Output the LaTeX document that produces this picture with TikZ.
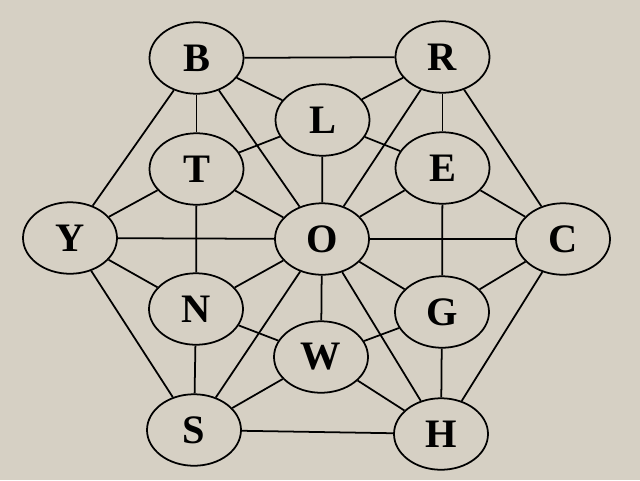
\documentclass[tikz,border=0pt]{standalone}
\usepackage{fontspec}
\setmainfont{Liberation Serif}
\usepackage{xcolor}
\usepackage{tikz}
\usetikzlibrary{shapes.geometric}
\definecolor{paper}{RGB}{214,208,196}

\begin{document}
\begin{tikzpicture}[
    letter/.style={ellipse, draw, line width=1pt, fill=paper,
      minimum width=1.88cm, minimum height=1.43cm,
      font=\fontsize{23}{27}\selectfont\bfseries},
    edge/.style={line width=1pt}
]
\fill[paper] (0,0) rectangle (12.8,9.6);
\useasboundingbox (0,0) rectangle (12.8,9.6);

\node[letter] (B) at (3.93,8.44)  {B};
\node[letter] (R) at (8.85,8.46)  {R};
\node[letter] (L) at (6.45,7.20)  {L};
\node[letter] (T) at (3.93,6.22)  {T};
\node[letter] (E) at (8.85,6.24)  {E};
\node[letter] (Y) at (1.40,4.84)  {Y};
\node[letter] (O) at (6.44,4.82)  {O};
\node[letter] (C) at (11.26,4.82) {C};
\node[letter] (N) at (3.92,3.42)  {N};
\node[letter] (G) at (8.84,3.36)  {G};
\node[letter] (W) at (6.42,2.46)  {W};
\node[letter] (S) at (3.88,1.00)  {S};
\node[letter] (H) at (8.82,0.92)  {H};

% outer ring
\draw[edge] (B) -- (R);
\draw[edge] (R) -- (C);
\draw[edge] (C) -- (H);
\draw[edge] (H) -- (S);
\draw[edge] (S) -- (Y);
\draw[edge] (Y) -- (B);
% verticals
\draw[edge] (B) -- (T);
\draw[edge] (T) -- (N);
\draw[edge] (N) -- (S);
\draw[edge] (R) -- (E);
\draw[edge] (E) -- (G);
\draw[edge] (G) -- (H);
\draw[edge] (L) -- (O);
\draw[edge] (O) -- (W);
% horizontal
\draw[edge] (Y) -- (O);
\draw[edge] (O) -- (C);
% upper part
\draw[edge] (B) -- (L);
\draw[edge] (R) -- (L);
\draw[edge] (L) -- (T);
\draw[edge] (L) -- (E);
\draw[edge] (B) -- (O);
\draw[edge] (R) -- (O);
\draw[edge] (T) -- (O);
\draw[edge] (E) -- (O);
\draw[edge] (T) -- (Y);
\draw[edge] (E) -- (C);
% lower part
\draw[edge] (Y) -- (N);
\draw[edge] (G) -- (C);
\draw[edge] (N) -- (O);
\draw[edge] (G) -- (O);
\draw[edge] (S) -- (O);
\draw[edge] (H) -- (O);
\draw[edge] (N) -- (W);
\draw[edge] (G) -- (W);
\draw[edge] (S) -- (W);
\draw[edge] (H) -- (W);
\end{tikzpicture}
\end{document}
